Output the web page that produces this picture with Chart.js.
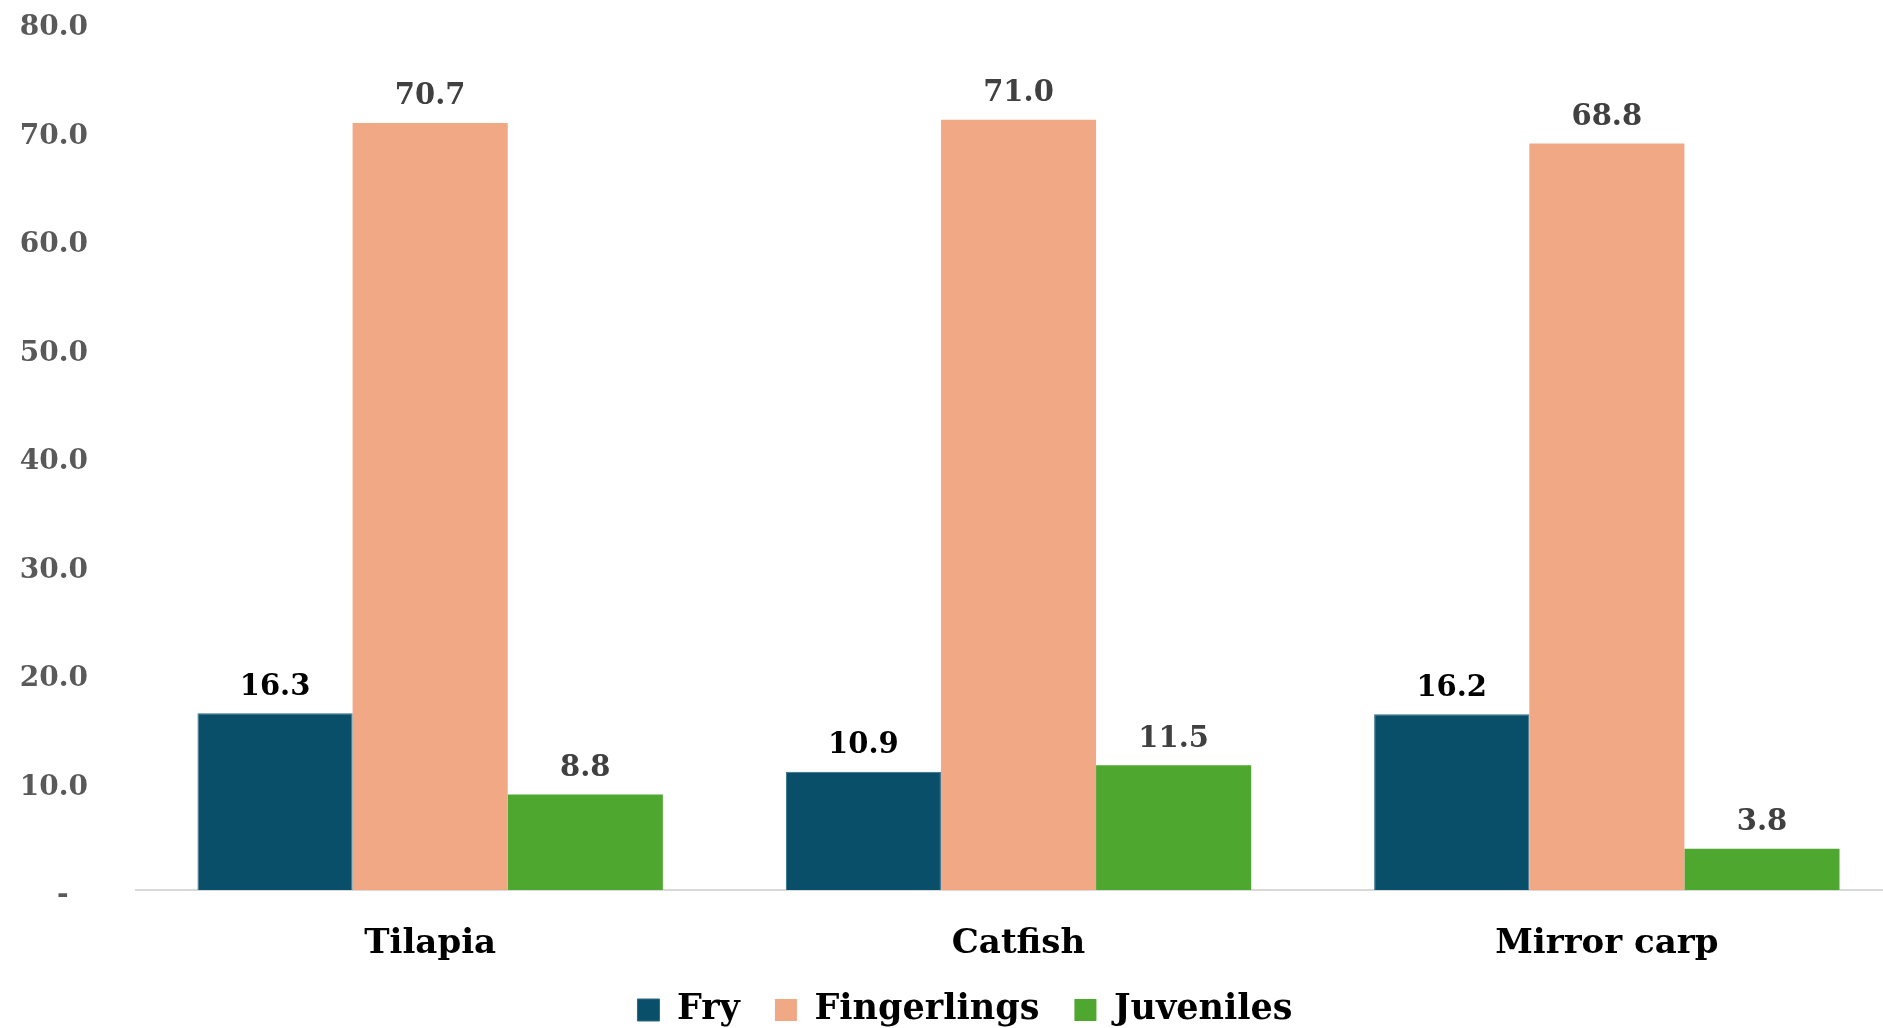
<!DOCTYPE html>
<html>
<head>
<meta charset="utf-8">
<script src="https://cdn.jsdelivr.net/npm/chart.js@4/dist/chart.umd.min.js"></script>
<style>
  html, body { margin: 0; padding: 0; background: #fff; overflow: hidden; }
  #wrap { position: absolute; left: 0; top: 0; width: 1901px; height: 1028px; }
</style>
</head>
<body>
<div id="wrap"><canvas id="c"></canvas></div>
<script>
const categories = ['Tilapia', 'Catfish', 'Mirror carp'];
const seriesNames = ['Fry', 'Fingerlings', 'Juveniles'];
const fry = [16.3, 10.9, 16.2];
const fingerlings = [70.7, 71.0, 68.8];
const juveniles = [8.8, 11.5, 3.8];
const yTicks = [0, 10, 20, 30, 40, 50, 60, 70, 80];

const colors = ['#0a4f6a', '#f1a985', '#4ea72e'];
const labelColors = ['#000000', '#404040', '#404040'];
const FONT = "'DejaVu Serif', 'Liberation Serif', serif";

const valueLabels = {
  id: 'valueLabels',
  afterDatasetsDraw(chart) {
    const ctx = chart.ctx;
    ctx.save();
    ctx.font = 'bold 29px ' + FONT;
    ctx.textAlign = 'center';
    ctx.textBaseline = 'middle';
    chart.data.datasets.forEach((ds, i) => {
      const meta = chart.getDatasetMeta(i);
      meta.data.forEach((bar, j) => {
        ctx.fillStyle = labelColors[i];
        ctx.fillText(ds.data[j].toFixed(1), bar.x, bar.y - 26);
      });
    });
    ctx.restore();
  }
};

const adjustLayout = {
  id: 'adjustLayout',
  afterLayout(chart) {
    const TOP = 22;
    const sy = chart.scales.y;
    sy.top = TOP;
    sy.height = sy.bottom - TOP;
    sy.configure();
    sy._labelItems = null;
    sy._gridLineItems = null;
    const a = chart.chartArea;
    a.top = TOP;
    a.height = a.bottom - TOP;
    const sx = chart.scales.x;
    sx.bottom = sx.top + 100;
    sx._labelItems = null;
    const lg = chart.legend;
    const dx = 14.5, dy = 9.5;
    lg.left += dx; lg.right += dx;
    lg.top += dy; lg.bottom += dy;
  }
};

new Chart(document.getElementById('c'), {
  type: 'bar',
  data: {
    labels: categories,
    datasets: [
      { label: seriesNames[0], data: fry, backgroundColor: colors[0], borderColor: '#2f6a84', borderWidth: 1 },
      { label: seriesNames[1], data: fingerlings, backgroundColor: colors[1], borderWidth: 0 },
      { label: seriesNames[2], data: juveniles, backgroundColor: colors[2], borderWidth: 0 }
    ]
  },
  options: {
    responsive: true,
    maintainAspectRatio: false,
    animation: false,
    layout: { autoPadding: false, padding: { left: 0, top: 22, right: 0, bottom: 0 } },
    datasets: { bar: { categoryPercentage: 0.791, barPercentage: 1.0 } },
    plugins: {
      legend: {
        position: 'bottom',
        labels: {
          font: { family: FONT, size: 35, weight: 'bold' },
          color: '#000000',
          boxWidth: 22,
          boxHeight: 22,
          padding: 35
        }
      },
      tooltip: { enabled: false }
    },
    scales: {
      x: {
        afterFit(scale) { scale.height = 58; },
        grid: { display: false, drawTicks: false },
        border: { display: true, color: '#d9d9d9', width: 2 },
        ticks: {
          font: { family: FONT, size: 34, weight: 'bold' },
          color: '#000000',
          padding: 34
        }
      },
      y: {
        min: 0,
        max: 80,
        afterBuildTicks(scale) { scale.ticks = yTicks.map(v => ({ value: v })); },
        afterFit(scale) { scale.width = 136; },
        grid: { display: false, drawTicks: false },
        border: { display: false },
        ticks: {
          font: { family: FONT, size: 28, weight: 'bold' },
          color: '#595959',
          padding: 48,
          labelOffset: 6,
          callback: (v) => v === 0 ? '-  ' : v.toFixed(1)
        }
      }
    }
  },
  plugins: [valueLabels, adjustLayout]
});
</script>
</body>
</html>
